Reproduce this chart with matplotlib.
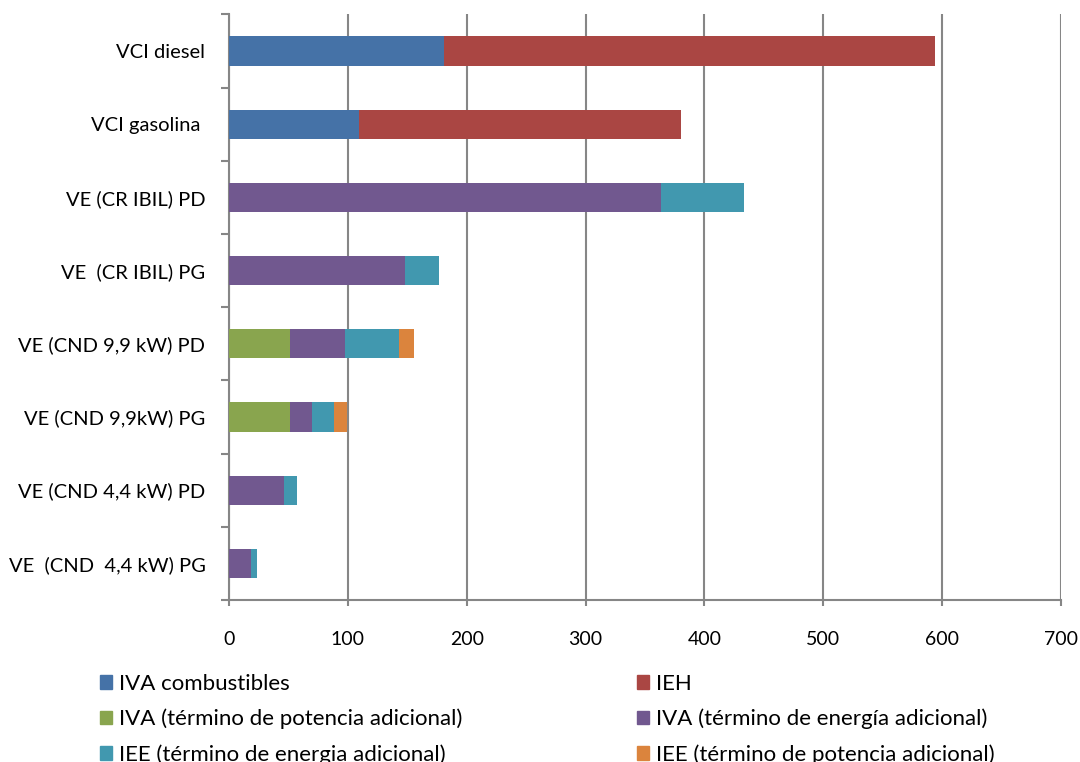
import matplotlib
matplotlib.use("Agg")
import matplotlib.pyplot as plt
import numpy as np
from matplotlib.patches import Patch

# categories, top to bottom
categorias = ["VCI diesel", "VCI gasolina ", "VE (CR IBIL) PD", "VE  (CR IBIL) PG",
              "VE (CND 9,9 kW) PD", "VE (CND 9,9kW) PG", "VE (CND 4,4 kW) PD",
              "VE  (CND  4,4 kW) PG"]

series = ["IVA combustibles", "IEH", "IVA (término de potencia adicional)",
          "IVA (término de energía adicional)", "IEE (término de energia adicional)",
          "IEE (término de potencia adicional)"]

iva_comb = [181, 109, 0, 0, 0, 0, 0, 0]
ieh = [413, 271, 0, 0, 0, 0, 0, 0]
iva_pot = [0, 0, 0, 0, 51, 51, 0, 0]
iva_ener = [0, 0, 363.5, 148, 46.5, 18.5, 46, 18.3]
iee_ener = [0, 0, 70, 28.7, 45.5, 18.5, 11, 5]
iee_pot = [0, 0, 0, 0, 12.5, 11.5, 0, 0]

colores = ["#4572A7", "#AA4643", "#89A54E", "#71588F", "#4198AF", "#DB843D"]
xticks = [0, 100, 200, 300, 400, 500, 600, 700]

plt.rcParams['font.family'] = ['Lato', 'DejaVu Sans']
fig = plt.figure(figsize=(10.8, 7.62), dpi=100)
ax = fig.add_axes([229 / 1080, 1 - 600 / 762, 832 / 1080, 585.6 / 762])

y = np.arange(len(categorias))
left = np.zeros(len(categorias))
for vals, col in zip([iva_comb, ieh, iva_pot, iva_ener, iee_ener, iee_pot], colores):
    vals = np.array(vals, dtype=float)
    ax.barh(y, vals, left=left, height=0.4, color=col, zorder=3)
    left += vals

ax.set_ylim(len(categorias) - 0.5, -0.5)
ax.set_xlim(0, 700)
ax.set_xticks(xticks)
ax.set_xticklabels([str(v) for v in xticks], fontsize=14)
ax.set_yticks(y)
ax.set_yticklabels(categorias, fontsize=14.5)
ax.tick_params(axis='y', length=0, pad=17)
ax.set_yticks(np.arange(-0.5, len(categorias)), minor=True)
ax.tick_params(axis='y', which='minor', length=6, width=1.5, color='#868686', direction='out')
ax.tick_params(axis='x', length=4, width=1.5, color='#868686', direction='out', pad=18)

ax.grid(axis='x', color='#868686', linewidth=1.5, zorder=0)
for s in ['top', 'right']:
    ax.spines[s].set_visible(False)
for s in ['left', 'bottom']:
    ax.spines[s].set_color('#868686')
    ax.spines[s].set_linewidth(1.5)

handles = [Patch(color=c) for c in colores]
kw = dict(loc='upper left', frameon=False, fontsize=16, handlelength=0.55, handleheight=0.55,
          handletextpad=0.3, labelspacing=0.67, borderpad=0, borderaxespad=0)
fig.legend([handles[0], handles[2], handles[4]], [series[0], series[2], series[4]],
           bbox_to_anchor=(100 / 1080, 1 - 674 / 762), **kw)
fig.legend([handles[1], handles[3], handles[5]], [series[1], series[3], series[5]],
           bbox_to_anchor=(637 / 1080, 1 - 674 / 762), **kw)

fig.savefig("out.png", dpi=100)
